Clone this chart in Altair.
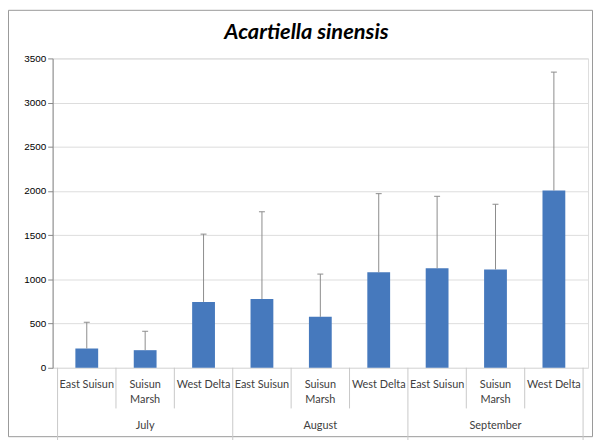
import altair as alt
import pandas as pd

# ---- data ----
sites = ["East Suisun", "Suisun Marsh", "West Delta",
         "East Suisun", "Suisun Marsh", "West Delta",
         "East Suisun", "Suisun Marsh", "West Delta"]
months = ["July", "July", "July",
          "August", "August", "August",
          "September", "September", "September"]
means = [218, 199, 745, 778, 576, 1080, 1125, 1112, 2005]
errors = [297, 214, 767, 987, 484, 890, 815, 738, 1340]
y_ticks = [0, 500, 1000, 1500, 2000, 2500, 3000, 3500]
title_text = "Acartiella sinensis"

W, H = 540, 312
BLUE = "#4679BD"
GREY = "#8C8C8C"
FONT = "Lato"

df = pd.DataFrame({
    "idx": list(range(len(sites))),
    "site": sites,
    "month": months,
    "mean": means,
    "err": errors,
})
df["upper"] = df["mean"] + df["err"]
df["label"] = df["site"].str.replace("Suisun Marsh", "Suisun\nMarsh", regex=False)

n = len(sites)
sep = pd.DataFrame({"b": [i - 0.5 for i in range(n + 1)],
                    "major": [i % 3 == 0 for i in range(n + 1)]})

xs = alt.Scale(domain=[-0.5, n - 0.5], nice=False, zero=False)
ys = alt.Scale(domain=[0, 3500], nice=False)
yaxis = alt.Axis(values=y_ticks, title=None, grid=True, format="d")

base = alt.Chart(df)

bars = base.mark_bar(size=23, color=BLUE).encode(
    x=alt.X("idx:Q", scale=xs, axis=None),
    y=alt.Y("mean:Q", scale=ys, axis=yaxis),
)

err_line = base.mark_rule(color=GREY, strokeWidth=1).encode(
    x=alt.X("idx:Q", scale=xs, axis=None),
    y=alt.Y("mean:Q", scale=ys, axis=yaxis),
    y2="upper:Q",
)

err_cap = base.mark_rule(color=GREY, strokeWidth=1, xOffset=-3, x2Offset=3).encode(
    x=alt.X("idx:Q", scale=xs, axis=None),
    x2="idx:Q",
    y=alt.Y("upper:Q", scale=ys, axis=yaxis),
)

minor_sep = alt.Chart(sep).transform_filter("!datum.major").mark_rule(
    color="#C8C8C8", strokeWidth=1
).encode(
    x=alt.X("b:Q", scale=xs, axis=None),
    y=alt.value(H),
    y2=alt.value(H + 41),
)

major_sep = alt.Chart(sep).transform_filter("datum.major").mark_rule(
    color="#C8C8C8", strokeWidth=1
).encode(
    x=alt.X("b:Q", scale=xs, axis=None),
    y=alt.value(H),
    y2=alt.value(H + 79),
)

site_labels = base.mark_text(
    lineBreak="\n", baseline="top", fontSize=11, font=FONT,
    color="#404040", lineHeight=16
).encode(
    x=alt.X("idx:Q", scale=xs, axis=None),
    y=alt.value(H + 11),
    text="label:N",
)

month_labels = base.transform_aggregate(
    c="mean(idx)", groupby=["month"]
).mark_text(
    baseline="middle", fontSize=11, font=FONT, color="#404040"
).encode(
    x=alt.X("c:Q", scale=xs, axis=None),
    y=alt.value(H + 59),
    text="month:N",
)

title = alt.Chart(pd.DataFrame({"t": [title_text]})).mark_text(
    fontSize=22, fontStyle="italic", fontWeight="bold", font=FONT,
    color="#000000", baseline="alphabetic", align="center"
).encode(
    x=alt.value(256),
    y=alt.value(-20),
    text="t:N",
)

frame = alt.Chart(pd.DataFrame({"a": [0]})).mark_rect(
    fillOpacity=0, stroke="#999999", strokeWidth=1
).encode(
    x=alt.value(-44.5), x2=alt.value(W + 4.5),
    y=alt.value(-48.5), y2=alt.value(H + 69.5),
)

chart = alt.layer(
    frame, title, bars, err_line, err_cap, minor_sep, major_sep,
    site_labels, month_labels
).properties(
    width=W, height=H,
    autosize=alt.AutoSizeParams(type="none"),
    padding={"left": 45, "top": 49, "right": 5, "bottom": 71},
).configure_view(stroke=None).configure_axis(
    labelFont=FONT, labelFontSize=10, labelColor="#404040",
    tickColor="#BFBFBF", tickSize=5, domainColor="#BFBFBF",
    gridColor="#D9D9D9", labelPadding=4,
).configure(background="white")

chart.save("out.html", embed_options={"renderer": "svg", "actions": False})
